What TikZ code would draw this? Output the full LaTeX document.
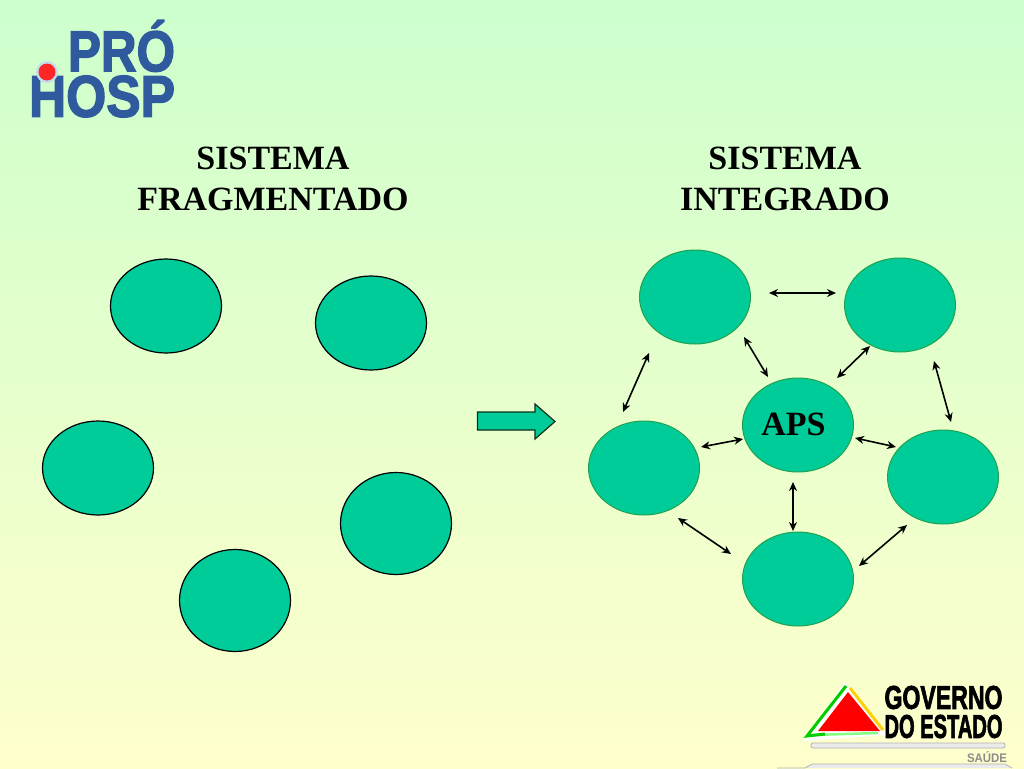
\documentclass[tikz,border=0pt]{standalone}
\usepackage{fontspec}
\setmainfont{Liberation Serif}
\newfontfamily\logofont[FakeBold=2.5]{Liberation Sans}
\newfontfamily\govfont[FakeBold=2.5]{Liberation Sans}
\newfontfamily\saudefont{Liberation Sans}
\usetikzlibrary{calc,shapes.geometric,arrows.meta}
\definecolor{topbg}{HTML}{CCFFCC}
\definecolor{botbg}{HTML}{FFFFCC}
\definecolor{blobfill}{HTML}{00CC99}
\definecolor{blobedge}{HTML}{22A050}
\definecolor{logoblue}{HTML}{2F5A9E}
\definecolor{logohalo}{HTML}{C4DCEC}
\tikzset{
  blob/.style={ellipse,minimum width=111pt,minimum height=94pt,inner sep=0pt,outer sep=0pt,fill=blobfill},
  looseblob/.style={blob,draw=black,line width=1.2pt},
  linkedblob/.style={blob,draw=blobedge,line width=1pt},
  tall/.style={minimum height=102pt},
  conn/.style={{Stealth[length=9pt,width=8pt]}-{Stealth[length=9pt,width=8pt]},line width=1.6pt,black},
  headline/.style={font=\bfseries\fontsize{34}{41}\selectfont,align=center,text=black,inner sep=0pt},
  logotext/.style={inner sep=0pt,text=logoblue},
  govtext/.style={inner sep=0pt,text=black},
}
\begin{document}
\begin{tikzpicture}[x=1pt,y=-1pt]
\useasboundingbox (0,0) rectangle (1024,768);
\shade[top color=topbg,bottom color=botbg,shading angle=0] (0,0) rectangle (1024,768);

% PRO HOSP logo
\node[logotext] (pro) at (121.5,46) {\resizebox{107pt}{51pt}{\logofont\bfseries PRÓ}};
\node[logotext] (hosp) at (102,96.5) {\resizebox{146pt}{41pt}{\logofont\bfseries HOSP}};
\fill[logohalo] (47,72) circle (11);
\fill[red!85!white] (47,72) circle (8.5);

% Titles
\node[headline] (left) at (273,179) {SISTEMA\\FRAGMENTADO};
\node[headline] (right) at (785,179) {SISTEMA\\INTEGRADO};

% Fragmented system
\node[looseblob] (f1) at (166,306) {};
\node[looseblob] (f2) at (371,323) {};
\node[looseblob] (f3) at (98,468) {};
\node[looseblob,tall] (f4) at (396,523.5) {};
\node[looseblob,tall] (f5) at (235,600.5) {};

% Transition arrow
\draw[draw=black!70!blobedge,fill=blobfill,line width=1.2pt,miter limit=10]
  (477.5,412) -- (535,412) -- (535,404) -- (555,421.5) -- (535,439) -- (535,430) -- (477.5,430) -- cycle;

% Integrated system
\node[linkedblob] (a) at (695,297) {};
\node[linkedblob] (b) at (900,305) {};
\node[linkedblob,font=\bfseries\fontsize{34}{40}\selectfont,text=black] (c) at (798,425) {\raisebox{2pt}{APS}\kern9pt};
\node[linkedblob] (d) at (644,468) {};
\node[linkedblob] (e) at (943,477) {};
\node[linkedblob] (g) at (798,579) {};

\draw[conn] ($(a)+(74,-4)$) -- ($(b)+(-64,-12)$);
\draw[conn] ($(a)+(49,40)$) -- ($(c)+(-30,-48)$);
\draw[conn] ($(b)+(-30,41)$) -- ($(c)+(39,-47)$);
\draw[conn] ($(a)+(-46,56)$) -- ($(d)+(-21,-56)$);
\draw[conn] ($(b)+(34,56)$) -- ($(e)+(8,-55)$);
\draw[conn] ($(c)+(-55,14)$) -- ($(d)+(57,-21)$);
\draw[conn] ($(c)+(57,13)$) -- ($(e)+(-47,-30)$);
\draw[conn] ($(c)+(-5,57)$) -- ($(g)+(-5,-48)$);
\draw[conn] ($(d)+(34,50)$) -- ($(g)+(-67,-25)$);
\draw[conn] ($(e)+(-36,48)$) -- ($(g)+(61,-13)$);

% Governo do Estado logo
\fill[white,rounded corners=2pt] (845,682) -- (887,735) -- (803,741) -- cycle;
\draw[yellow!70!orange,line width=3pt] (850,688) -- (883,730);
\draw[green!50!white,line width=2.5pt] (812,735) -- (878,733);
\draw[green!80!black,line width=3pt] (846,686) -- (807,736) -- (825,734);
\fill[red] (848,692) -- (880,731) -- (818,731) -- cycle;
\node[govtext] (gov1) at (943.5,697.5) {\resizebox{118pt}{23pt}{\govfont\bfseries GOVERNO}};
\node[govtext] (gov2) at (943.5,726.5) {\resizebox{118pt}{23pt}{\govfont\bfseries DO ESTADO}};
\draw[black!30,fill=white!92!black,rounded corners=2pt,line width=0.8pt] (811,743) rectangle (1005,748);
\node[inner sep=0pt,text=black!45] (saude) at (987,757.5) {\resizebox{40pt}{11pt}{\saudefont\bfseries SAÚDE}};
\draw[black!30,fill=white!92!black,line width=0.8pt] (777,768) -- (805,768) -- (812,764) -- (1005,764) -- (1012,768);
\end{tikzpicture}
\end{document}
